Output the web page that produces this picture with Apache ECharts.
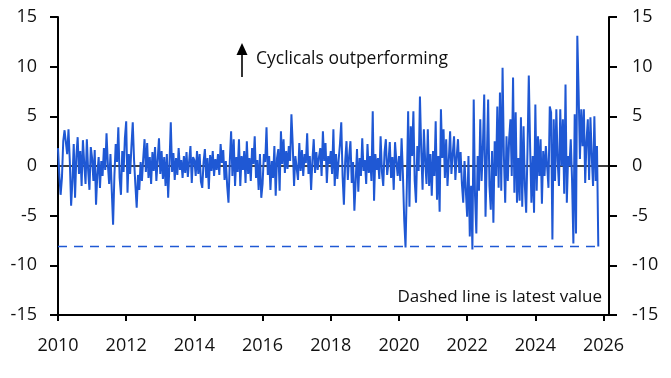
<!DOCTYPE html>
<html>
<head>
<meta charset="utf-8">
<script src="https://cdn.jsdelivr.net/npm/echarts@6/dist/echarts.min.js"></script>
<style>
  html, body { margin: 0; padding: 0; background: #fff; }
  #main { width: 671px; height: 378px; }
</style>
</head>
<body>
<div id="main"></div>
<script>
// fortnightly readings (26 per year)
const y2010 = [1.8, -0.9, -2.9, -1.2, 2.5, 3.6, 3.8, 1.2, 3.7, 0.5, -4.0, -1.5, 2.2, -3.2, 1.0, 2.9, -0.8, 1.5, -2.0, 2.6, 0.3, -1.8, 2.7, -0.5, -2.4, 1.9];
const y2011 = [0.8, -1.5, 1.6, -3.9, -0.8, 0.9, -2.2, 0.5, -1.0, 1.8, -0.4, 3.3, 0.2, -1.8, 1.2, -2.5, -5.9, -1.0, 2.2, 0.4, 3.9, -1.2, -2.9, 1.5, -0.6, 2.8];
const y2012 = [4.5, -2.7, 1.2, -0.8, 2.0, 4.4, 0.6, -1.9, -4.2, -0.9, -2.4, 0.4, -1.5, 0.8, 2.7, -0.6, 2.3, -1.2, 0.9, -1.8, 1.4, -0.5, 1.9, -1.5, 0.6, 2.8];
const y2013 = [-0.8, 1.5, -1.3, 0.9, -2.0, 1.2, -3.2, 0.2, 4.4, -0.6, 1.3, -1.4, 0.8, -0.9, 1.8, -0.4, 0.6, -1.2, 1.0, -0.7, 1.4, -1.1, 0.5, 2.0, -1.7, 0.9];
const y2014 = [0.6, -1.0, 1.5, -0.8, 1.2, -1.6, -2.2, 0.4, 1.7, -1.2, 0.8, -2.3, 1.1, -0.5, 1.5, -1.0, 0.7, -0.4, 1.2, -0.9, 2.2, 0.3, 1.6, -1.4, 0.5, -2.0];
const y2015 = [-3.7, 0.5, 3.5, -1.0, 2.7, -2.0, 0.9, -0.6, 2.7, -2.0, 1.0, -0.4, 1.5, -1.7, 2.5, -0.8, 0.8, -1.5, 1.8, 0.2, 3.0, -1.2, 0.6, -2.4, 1.2, -3.2];
const y2016 = [-1.8, 1.2, 0.4, 3.9, -0.9, 1.0, -2.4, 0.5, -1.2, 2.0, -3.0, 0.8, 1.7, -2.5, 3.5, 0.2, 2.7, -0.7, 1.5, -0.3, 2.0, 0.5, 5.2, 2.1, -2.0, 1.0];
const y2017 = [0.8, -1.4, 2.3, -0.5, 1.6, -1.0, 1.2, 0.3, 3.3, -0.8, 1.0, -2.4, 0.6, 2.7, -0.7, 1.4, -0.4, 0.9, 1.8, -1.0, 3.5, 0.5, 2.3, -1.7, 1.0, 0.2];
const y2018 = [1.5, -0.8, 3.7, -2.0, 1.2, -1.3, 0.6, 2.2, 4.4, -1.0, -3.9, 0.5, 2.5, -1.4, 1.0, 2.5, -1.7, 0.4, -4.5, -1.5, 1.7, -2.6, 0.8, -1.0, 2.8, -0.5];
const y2019 = [0.6, -1.8, 2.2, -0.7, 1.0, -1.5, 5.5, -3.5, 1.2, -0.4, 0.8, -1.3, 3.0, -0.6, -2.0, 1.4, 2.7, -0.9, 0.4, 2.4, -1.2, 0.9, -2.4, 2.4, 0.5, -1.0];
const y2020 = [1.0, -1.5, 2.8, -0.8, -5.4, -8.2, -2.0, 5.5, -4.1, 4.0, 1.0, 5.5, -1.5, -3.7, 2.0, -0.5, 7.0, 1.5, -2.4, 3.7, 0.5, -1.8, 3.7, -2.0, 1.2, -3.0];
const y2021 = [1.5, -1.0, 4.5, -3.4, 1.0, -4.6, 5.7, 0.8, 3.7, -1.2, 2.7, -2.0, 0.6, 3.5, -0.8, 1.2, 3.0, -1.4, 0.9, 2.7, -0.7, 1.4, -1.8, -3.7, 0.5, -2.5];
const y2022 = [-5.1, 1.0, -7.1, -2.0, -8.4, 6.7, -3.0, -6.8, 1.0, -2.5, 4.7, -1.5, 2.0, 7.2, -5.1, 0.8, 6.7, -2.0, -4.4, 1.5, -5.7, 2.5, -1.0, 6.0, -2.2, 7.4];
const y2023 = [-2.5, 9.9, 1.0, -3.7, 3.0, -1.5, 2.7, 4.7, -1.0, 8.9, -2.7, 5.4, -3.7, 0.8, -3.5, 4.9, -4.1, 4.0, -2.0, -4.7, 1.5, 9.1, 2.0, -3.7, 1.0, -4.7];
const y2024 = [6.2, -2.5, 3.0, -1.0, 2.7, -3.8, 1.5, -1.0, 2.0, 0.0, -2.2, 6.0, 5.4, -7.4, 4.7, -1.5, 5.7, 0.5, -2.0, 5.7, 0.0, 4.7, -2.8, 8.2, -3.7, 1.0];
const y2025 = [0.0, 2.7, -1.5, -7.8, 5.2, -6.8, 13.1, 7.4, 0.7, 5.7, 2.0, 5.7, -1.7, 2.5, 4.7, -1.4, 4.9, 1.0, -2.0, 5.0, -1.5, 2.0, -8.1];

const years = [2010, 2011, 2012, 2013, 2014, 2015, 2016, 2017, 2018, 2019, 2020, 2021, 2022, 2023, 2024, 2025];
const yearValues = [y2010, y2011, y2012, y2013, y2014, y2015, y2016, y2017, y2018, y2019, y2020, y2021, y2022, y2023, y2024, y2025];

const yTicks = [-15, -10, -5, 0, 5, 10, 15];
const xMin = 2010;
const xMax = 2026.16;

let points = [];
years.forEach((yr, k) => {
  yearValues[k].forEach((v, i) => {
    points.push([yr + i / 26, v]);
  });
});
const lastPoint = points[points.length - 1];
const latestLine = [[points[0][0], lastPoint[1]], [lastPoint[0], lastPoint[1]]];
const zeroLine = [[xMin, 0], [xMax, 0]];

const BLUE = '#1f58d4';
const FONT = '"Open Sans", sans-serif';

let chartDom = document.getElementById('main');
let myChart = echarts.init(chartDom);

const yAxisCommon = {
  type: 'value',
  min: yTicks[0],
  max: yTicks[yTicks.length - 1],
  interval: 5,
  splitLine: { show: false },
  axisLine: { show: true, onZero: false, lineStyle: { color: '#000', width: 2 } },
  axisTick: { show: true, inside: false, length: 8, lineStyle: { color: '#000', width: 2 } },
  axisLabel: { color: '#111', fontSize: 18, fontFamily: FONT, margin: 21 }
};

const option = {
  animation: false,
  grid: { left: 58, right: 62, top: 17, bottom: 63, containLabel: false },
  xAxis: {
    type: 'value',
    min: xMin,
    max: xMax,
    interval: 2,
    splitLine: { show: false },
    axisLine: { show: true, onZero: false, lineStyle: { color: '#000', width: 2 } },
    axisTick: { show: true, inside: false, length: 6, lineStyle: { color: '#000', width: 2 } },
    axisLabel: {
      color: '#111', fontSize: 18, fontFamily: FONT, margin: 22,
      showMaxLabel: false,
      formatter: function (v) {
        return (Math.abs(v - Math.round(v)) < 1e-6 && Math.round(v) % 2 === 0) ? String(Math.round(v)) : '';
      }
    }
  },
  yAxis: [
    Object.assign({}, yAxisCommon, { position: 'left' }),
    Object.assign({}, yAxisCommon, { position: 'right', axisLabel: Object.assign({}, yAxisCommon.axisLabel, { margin: 23 }) })
  ],
  series: [
    {
      name: 'zero',
      type: 'line',
      data: zeroLine,
      showSymbol: false,
      silent: true,
      z: 1,
      lineStyle: { color: '#000', width: 1.5 }
    },
    {
      name: 'Relative performance',
      type: 'line',
      data: points,
      showSymbol: false,
      z: 2,
      lineStyle: { color: BLUE, width: 2 }
    },
    {
      name: 'latest',
      type: 'line',
      data: latestLine,
      showSymbol: false,
      z: 3,
      lineStyle: { color: BLUE, width: 1.6, type: [9, 7] }
    }
  ],
  graphic: [
    {
      type: 'line',
      shape: { x1: 242, y1: 77, x2: 242, y2: 53 },
      style: { stroke: '#000', lineWidth: 1.6 }
    },
    {
      type: 'polygon',
      shape: { points: [[236.5, 55], [247.5, 55], [242, 43]] },
      style: { fill: '#000' }
    },
    {
      type: 'text',
      left: 256,
      top: 50,
      style: { text: 'Cyclicals outperforming', fill: '#111', font: '17.5px ' + FONT }
    },
    {
      type: 'text',
      right: 69,
      top: 289,
      style: { text: 'Dashed line is latest value', fill: '#111', font: '17px ' + FONT }
    }
  ]
};

myChart.setOption(option);
</script>
</body>
</html>
